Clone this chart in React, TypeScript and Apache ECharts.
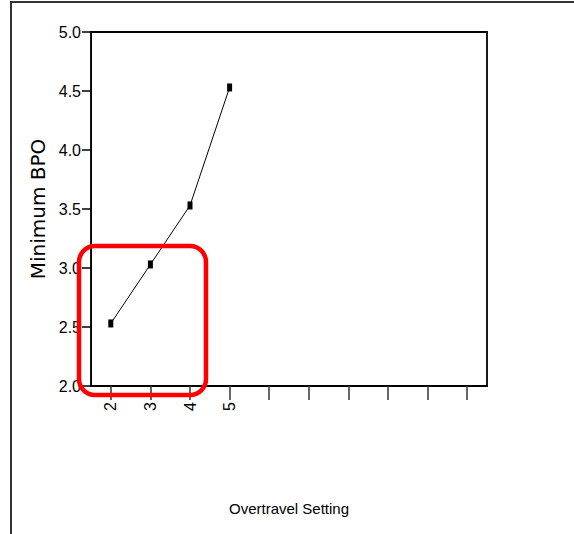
import React, { useEffect, useRef } from "react";
import * as echarts from "echarts";

const categories = ["2", "3", "4", "5", "", "", "", "", "", ""];
const minBPO = [2.53, 3.03, 3.53, 4.53];
const yTicks = { min: 2.0, max: 5.0, interval: 0.5 };

const FONT = "'Liberation Sans', Arial, sans-serif";

export default function App() {
  const ref = useRef<HTMLDivElement>(null);
  useEffect(() => {
    document.body.style.margin = "0";
    const chart = echarts.init(ref.current!, null, { renderer: "svg" });
    chart.setOption({
      animation: false,
      backgroundColor: "#ffffff",
      grid: {
        left: 91,
        top: 32,
        width: 396,
        height: 354,
        show: true,
        borderColor: "#000",
        borderWidth: 1.8,
      },
      xAxis: {
        type: "category",
        data: categories,
        boundaryGap: true,
        name: "Overtravel Setting",
        nameLocation: "middle",
        nameGap: 115,
        nameTextStyle: { fontFamily: FONT, fontSize: 15, color: "#000" },
        axisLine: { show: true, lineStyle: { color: "#000", width: 2 } },
        axisTick: {
          show: true,
          alignWithLabel: true,
          interval: 0,
          length: 14,
          lineStyle: { color: "#333", width: 1.5 },
        },
        axisLabel: {
          interval: 0,
          rotate: 90,
          margin: 16,
          fontFamily: FONT,
          fontSize: 16,
          color: "#000",
        },
        splitLine: { show: false },
      },
      yAxis: {
        type: "value",
        min: yTicks.min,
        max: yTicks.max,
        interval: yTicks.interval,
        name: "Minimum BPO",
        nameLocation: "middle",
        nameGap: 40,
        nameTextStyle: { fontFamily: "'DejaVu Sans', sans-serif", fontSize: 20, color: "#000" },
        axisLine: { show: true, lineStyle: { color: "#000", width: 1 } },
        axisTick: { show: true, length: 9, lineStyle: { color: "#000", width: 1.5 } },
        axisLabel: {
          margin: 10,
          fontFamily: FONT,
          fontSize: 16,
          color: "#000",
          formatter: (v: number) => v.toFixed(1),
        },
        splitLine: { show: false },
      },
      series: [
        {
          type: "line",
          data: minBPO,
          symbol: "rect",
          symbolSize: [5, 8],
          itemStyle: { color: "#000" },
          lineStyle: { color: "#000", width: 1 },
        },
      ],
      graphic: [
        {
          type: "rect",
          shape: { x: 11, y: 2, width: 700, height: 700 },
          style: { fill: "none", stroke: "#333", lineWidth: 2 },
          silent: true,
        },
        {
          type: "rect",
          shape: { x: 79, y: 246, width: 127, height: 149, r: 16 },
          style: { fill: "none", stroke: "#ff0000", lineWidth: 4.5 },
          silent: true,
          z: 100,
        },
      ],
    });
    return () => chart.dispose();
  }, []);
  return <div ref={ref} style={{ width: 574, height: 534 }} />;
}
